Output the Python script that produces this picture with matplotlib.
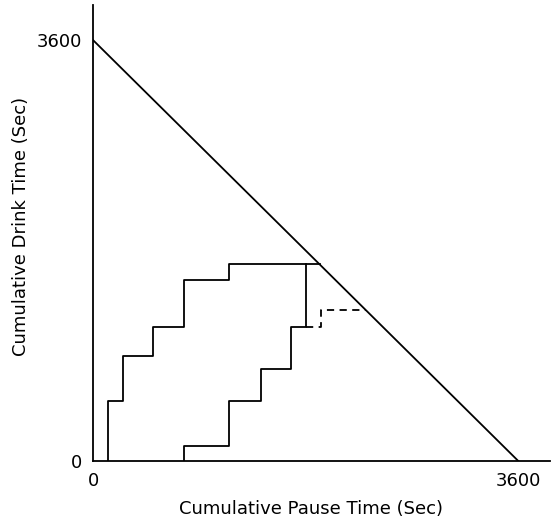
import matplotlib as mpl
mpl.use("Agg")
import matplotlib.pyplot as plt

SESSION_SEC = 3600

# Cumulative pause / drink time vertices (sec) for the two sessions.
fast_pause = [130, 130, 257, 257, 511, 511, 773, 773, 1155, 1155, 1918]
fast_drink = [0, 513, 513, 898, 898, 1148, 1148, 1548, 1548, 1682, 1682]

slow_pause = [773, 773, 1155, 1155, 1422, 1422, 1677, 1677, 1804, 1804]
slow_drink = [0, 128, 128, 513, 513, 787, 787, 1148, 1148, 1682]

# Projected continuation of the slow session.
proj_pause = [1804, 1930, 1930, 2310]
proj_drink = [1148, 1148, 1290, 1290]

plt.rcParams.update({
    "font.family": "DejaVu Sans",
    "axes.spines.right": False,
    "axes.spines.top": False,
    "axes.linewidth": 1.3,
})

fig = plt.figure(figsize=(5.59, 5.21), dpi=100)
ax = fig.add_axes([0.1664, 0.1152, 0.818, 0.875])

lw = 1.3
ax.plot([0, SESSION_SEC], [SESSION_SEC, 0], color="black", lw=lw)
ax.plot(fast_pause, fast_drink, color="black", lw=lw)
ax.plot(slow_pause, slow_drink, color="black", lw=lw)
ax.plot(proj_pause, proj_drink, color="black", lw=lw, ls=(0, (4, 3)))

ax.set_xlim(0, 3871)
ax.set_ylim(0, 3899)
ax.set_xticks([0, SESSION_SEC])
ax.set_yticks([0, SESSION_SEC])
ax.set_xticklabels(["0", "3600"])
ax.set_yticklabels(["0", "3600"])
ax.tick_params(length=0, labelsize=13, pad=8)

ax.set_xlabel("Cumulative Pause Time (Sec)", fontsize=13)
ax.set_ylabel("Cumulative Drink Time (Sec)", fontsize=13)
ax.xaxis.set_label_coords(0.476, -0.085)
ax.yaxis.set_label_coords(-0.138, 0.515)

fig.savefig("out.png", dpi=100)
